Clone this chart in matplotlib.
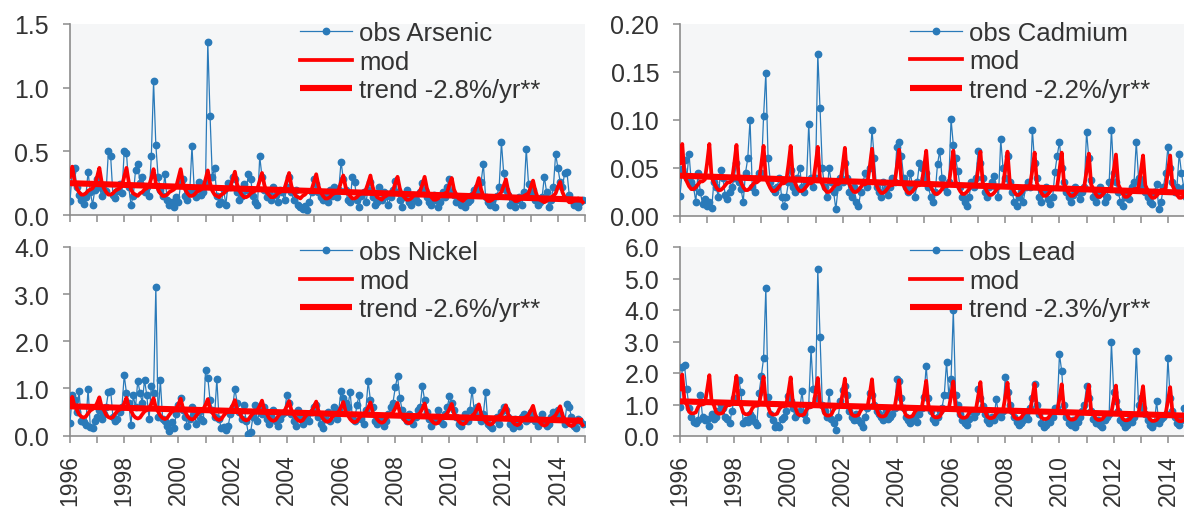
import matplotlib
matplotlib.use("Agg")
import matplotlib.pyplot as plt
import numpy as np

plt.rcParams["font.family"] = ["Liberation Sans", "DejaVu Sans"]

# monthly values Jan 1996 - Dec 2014, one row per year
arsenic_obs = [
    [0.11, 0.34, 0.37, 0.22, 0.16, 0.12, 0.09, 0.14, 0.34, 0.18, 0.08, 0.20],
    [0.28, 0.22, 0.15, 0.20, 0.19, 0.50, 0.46, 0.16, 0.13, 0.19, 0.24, 0.17],
    [0.50, 0.49, 0.22, 0.08, 0.15, 0.35, 0.40, 0.25, 0.30, 0.18, 0.22, 0.15],
    [0.46, 1.05, 0.55, 0.30, 0.20, 0.15, 0.32, 0.12, 0.08, 0.10, 0.06, 0.14],
    [0.10, 0.25, 0.28, 0.15, 0.12, 0.18, 0.54, 0.20, 0.14, 0.26, 0.16, 0.18],
    [0.25, 1.36, 0.78, 0.30, 0.37, 0.15, 0.09, 0.10, 0.20, 0.08, 0.25, 0.22],
    [0.30, 0.28, 0.18, 0.12, 0.15, 0.24, 0.20, 0.32, 0.28, 0.15, 0.10, 0.08],
    [0.46, 0.30, 0.20, 0.14, 0.18, 0.12, 0.22, 0.16, 0.10, 0.20, 0.18, 0.12],
    [0.22, 0.30, 0.18, 0.12, 0.20, 0.08, 0.06, 0.05, 0.07, 0.04, 0.10, 0.18],
    [0.28, 0.24, 0.18, 0.14, 0.12, 0.16, 0.10, 0.20, 0.15, 0.22, 0.14, 0.20],
    [0.42, 0.28, 0.20, 0.12, 0.10, 0.30, 0.26, 0.12, 0.06, 0.15, 0.18, 0.10],
    [0.20, 0.26, 0.14, 0.08, 0.10, 0.22, 0.12, 0.18, 0.15, 0.08, 0.14, 0.20],
    [0.27, 0.18, 0.12, 0.06, 0.14, 0.20, 0.10, 0.08, 0.16, 0.12, 0.10, 0.18],
    [0.25, 0.20, 0.14, 0.10, 0.08, 0.16, 0.12, 0.06, 0.10, 0.18, 0.14, 0.22],
    [0.28, 0.18, 0.16, 0.10, 0.12, 0.08, 0.14, 0.06, 0.10, 0.12, 0.16, 0.20],
    [0.22, 0.18, 0.26, 0.40, 0.14, 0.10, 0.08, 0.12, 0.06, 0.15, 0.22, 0.57],
    [0.33, 0.20, 0.16, 0.08, 0.10, 0.06, 0.12, 0.14, 0.08, 0.18, 0.52, 0.24],
    [0.16, 0.20, 0.12, 0.08, 0.10, 0.14, 0.30, 0.18, 0.06, 0.12, 0.22, 0.48],
    [0.37, 0.26, 0.22, 0.33, 0.34, 0.16, 0.12, 0.08, 0.10, 0.06, 0.10, 0.12],
]
arsenic_mod = [
    [0.30, 0.38, 0.27, 0.21, 0.18, 0.16, 0.16, 0.17, 0.19, 0.20, 0.21, 0.24],
    [0.30, 0.37, 0.26, 0.21, 0.18, 0.16, 0.16, 0.17, 0.19, 0.20, 0.21, 0.23],
    [0.30, 0.37, 0.26, 0.20, 0.17, 0.16, 0.15, 0.17, 0.18, 0.20, 0.21, 0.23],
    [0.29, 0.36, 0.25, 0.20, 0.17, 0.15, 0.15, 0.16, 0.18, 0.19, 0.20, 0.22],
    [0.29, 0.36, 0.25, 0.20, 0.17, 0.15, 0.15, 0.16, 0.18, 0.19, 0.20, 0.22],
    [0.28, 0.35, 0.25, 0.19, 0.16, 0.15, 0.14, 0.16, 0.17, 0.19, 0.20, 0.22],
    [0.28, 0.34, 0.24, 0.19, 0.16, 0.14, 0.14, 0.15, 0.17, 0.18, 0.19, 0.21],
    [0.27, 0.33, 0.24, 0.18, 0.16, 0.14, 0.14, 0.15, 0.17, 0.18, 0.19, 0.21],
    [0.27, 0.33, 0.23, 0.18, 0.15, 0.14, 0.13, 0.15, 0.16, 0.18, 0.19, 0.20],
    [0.26, 0.32, 0.23, 0.18, 0.15, 0.13, 0.13, 0.14, 0.16, 0.17, 0.18, 0.20],
    [0.26, 0.31, 0.22, 0.17, 0.15, 0.13, 0.13, 0.14, 0.16, 0.17, 0.18, 0.20],
    [0.25, 0.31, 0.22, 0.17, 0.14, 0.13, 0.12, 0.14, 0.15, 0.17, 0.18, 0.19],
    [0.25, 0.30, 0.21, 0.16, 0.14, 0.12, 0.12, 0.13, 0.15, 0.16, 0.17, 0.19],
    [0.24, 0.30, 0.21, 0.16, 0.14, 0.12, 0.12, 0.13, 0.15, 0.16, 0.17, 0.18],
    [0.24, 0.29, 0.20, 0.16, 0.13, 0.12, 0.11, 0.13, 0.14, 0.15, 0.16, 0.18],
    [0.23, 0.29, 0.20, 0.15, 0.13, 0.11, 0.11, 0.12, 0.14, 0.15, 0.16, 0.18],
    [0.23, 0.28, 0.19, 0.15, 0.13, 0.11, 0.11, 0.12, 0.13, 0.15, 0.16, 0.17],
    [0.22, 0.27, 0.19, 0.14, 0.12, 0.11, 0.10, 0.11, 0.13, 0.14, 0.15, 0.17],
    [0.22, 0.26, 0.18, 0.14, 0.12, 0.10, 0.10, 0.11, 0.12, 0.13, 0.12, 0.10],
]
arsenic_trend = [0.25, 0.12]

cadmium_obs = [
    [0.021, 0.049, 0.058, 0.040, 0.065, 0.035, 0.030, 0.015, 0.045, 0.025, 0.012, 0.018],
    [0.010, 0.015, 0.008, 0.035, 0.030, 0.020, 0.048, 0.040, 0.022, 0.018, 0.025, 0.030],
    [0.040, 0.055, 0.035, 0.028, 0.015, 0.045, 0.060, 0.100, 0.030, 0.025, 0.040, 0.045],
    [0.045, 0.104, 0.149, 0.060, 0.035, 0.028, 0.025, 0.030, 0.040, 0.020, 0.010, 0.020],
    [0.035, 0.048, 0.030, 0.025, 0.040, 0.050, 0.030, 0.025, 0.035, 0.096, 0.040, 0.030],
    [0.040, 0.169, 0.112, 0.050, 0.030, 0.020, 0.050, 0.035, 0.025, 0.007, 0.030, 0.040],
    [0.035, 0.055, 0.040, 0.025, 0.020, 0.030, 0.015, 0.010, 0.025, 0.035, 0.045, 0.030],
    [0.050, 0.090, 0.060, 0.030, 0.025, 0.020, 0.035, 0.028, 0.022, 0.030, 0.040, 0.035],
    [0.072, 0.077, 0.063, 0.040, 0.030, 0.025, 0.045, 0.030, 0.020, 0.035, 0.055, 0.050],
    [0.040, 0.045, 0.030, 0.020, 0.015, 0.025, 0.054, 0.068, 0.040, 0.030, 0.025, 0.035],
    [0.101, 0.074, 0.060, 0.047, 0.030, 0.020, 0.015, 0.010, 0.020, 0.035, 0.030, 0.040],
    [0.068, 0.055, 0.040, 0.025, 0.020, 0.030, 0.035, 0.042, 0.030, 0.020, 0.080, 0.050],
    [0.040, 0.063, 0.035, 0.025, 0.015, 0.010, 0.020, 0.025, 0.015, 0.030, 0.035, 0.030],
    [0.090, 0.055, 0.040, 0.020, 0.015, 0.025, 0.030, 0.018, 0.012, 0.020, 0.046, 0.063],
    [0.077, 0.050, 0.035, 0.025, 0.020, 0.015, 0.022, 0.030, 0.025, 0.018, 0.025, 0.030],
    [0.088, 0.060, 0.038, 0.020, 0.015, 0.022, 0.030, 0.025, 0.015, 0.020, 0.035, 0.090],
    [0.045, 0.035, 0.025, 0.015, 0.010, 0.020, 0.025, 0.018, 0.030, 0.035, 0.077, 0.040],
    [0.035, 0.030, 0.025, 0.020, 0.015, 0.012, 0.025, 0.033, 0.007, 0.015, 0.030, 0.045],
    [0.072, 0.050, 0.035, 0.025, 0.030, 0.065, 0.045, 0.030, 0.020, 0.015, 0.025, 0.030],
]
cadmium_mod = [
    [0.055, 0.075, 0.041, 0.036, 0.031, 0.028, 0.028, 0.030, 0.033, 0.036, 0.036, 0.038],
    [0.055, 0.075, 0.040, 0.035, 0.030, 0.027, 0.027, 0.029, 0.032, 0.035, 0.035, 0.037],
    [0.054, 0.074, 0.040, 0.035, 0.030, 0.027, 0.027, 0.029, 0.032, 0.035, 0.035, 0.037],
    [0.054, 0.073, 0.039, 0.034, 0.029, 0.026, 0.026, 0.028, 0.031, 0.034, 0.034, 0.036],
    [0.053, 0.073, 0.039, 0.034, 0.029, 0.026, 0.026, 0.028, 0.031, 0.034, 0.034, 0.036],
    [0.053, 0.072, 0.038, 0.033, 0.028, 0.025, 0.025, 0.027, 0.030, 0.033, 0.033, 0.035],
    [0.052, 0.071, 0.038, 0.033, 0.028, 0.025, 0.025, 0.027, 0.030, 0.033, 0.033, 0.035],
    [0.051, 0.070, 0.037, 0.032, 0.027, 0.024, 0.024, 0.026, 0.029, 0.032, 0.032, 0.034],
    [0.051, 0.069, 0.037, 0.032, 0.027, 0.024, 0.024, 0.026, 0.029, 0.032, 0.032, 0.034],
    [0.050, 0.068, 0.036, 0.031, 0.026, 0.023, 0.023, 0.025, 0.028, 0.031, 0.031, 0.033],
    [0.050, 0.068, 0.036, 0.031, 0.026, 0.023, 0.023, 0.025, 0.028, 0.031, 0.031, 0.033],
    [0.049, 0.067, 0.035, 0.030, 0.025, 0.022, 0.022, 0.024, 0.027, 0.030, 0.030, 0.032],
    [0.049, 0.067, 0.035, 0.030, 0.025, 0.022, 0.022, 0.024, 0.027, 0.030, 0.030, 0.032],
    [0.048, 0.066, 0.034, 0.029, 0.024, 0.021, 0.021, 0.023, 0.026, 0.029, 0.029, 0.031],
    [0.048, 0.066, 0.034, 0.029, 0.024, 0.021, 0.021, 0.023, 0.026, 0.029, 0.029, 0.031],
    [0.047, 0.065, 0.033, 0.028, 0.023, 0.020, 0.020, 0.022, 0.025, 0.028, 0.028, 0.030],
    [0.047, 0.064, 0.033, 0.028, 0.023, 0.020, 0.020, 0.022, 0.025, 0.028, 0.028, 0.030],
    [0.046, 0.063, 0.032, 0.027, 0.022, 0.019, 0.019, 0.021, 0.024, 0.027, 0.027, 0.029],
    [0.046, 0.063, 0.032, 0.027, 0.022, 0.019, 0.019, 0.021, 0.024, 0.027, 0.027, 0.029],
]
cadmium_trend = [0.042, 0.024]

nickel_obs = [
    [0.27, 0.85, 0.75, 0.50, 0.95, 0.30, 0.28, 0.22, 0.99, 0.18, 0.15, 0.30],
    [0.40, 0.55, 0.35, 0.45, 0.60, 0.93, 0.95, 0.40, 0.30, 0.35, 0.50, 0.60],
    [1.28, 0.90, 0.70, 0.22, 0.85, 0.60, 1.16, 0.90, 0.70, 1.18, 0.85, 0.35],
    [1.05, 0.90, 3.15, 0.40, 1.17, 0.35, 0.30, 0.20, 0.10, 0.28, 0.15, 0.45],
    [0.65, 0.80, 0.55, 0.40, 0.20, 0.35, 0.60, 0.45, 0.25, 0.50, 0.35, 0.30],
    [1.39, 1.23, 0.75, 0.55, 0.40, 1.20, 0.35, 0.15, 0.18, 0.12, 0.20, 0.45],
    [0.60, 0.99, 0.70, 0.50, 0.35, 0.65, 0.30, 0.03, 0.08, 0.40, 0.65, 0.30],
    [0.55, 0.45, 0.60, 0.35, 0.25, 0.40, 0.55, 0.30, 0.20, 0.35, 0.45, 0.50],
    [0.86, 0.70, 0.45, 0.30, 0.20, 0.55, 0.40, 0.25, 0.35, 0.45, 0.30, 0.50],
    [0.60, 0.65, 0.40, 0.25, 0.15, 0.35, 0.50, 0.30, 0.45, 0.60, 0.35, 0.55],
    [0.95, 0.80, 0.70, 0.60, 0.93, 0.40, 0.30, 0.65, 0.85, 0.35, 0.25, 0.55],
    [1.15, 0.75, 0.60, 0.30, 0.25, 0.40, 0.35, 0.20, 0.30, 0.45, 0.60, 0.70],
    [1.02, 1.26, 0.80, 0.55, 0.40, 0.30, 0.45, 0.35, 0.25, 0.40, 0.55, 0.60],
    [1.05, 0.75, 0.50, 0.35, 0.20, 0.30, 0.40, 0.55, 0.30, 0.25, 0.45, 0.60],
    [0.83, 0.70, 0.55, 0.40, 0.25, 0.20, 0.35, 0.45, 0.30, 0.55, 0.97, 0.50],
    [0.60, 0.40, 0.30, 0.45, 0.93, 0.25, 0.20, 0.15, 0.35, 0.40, 0.25, 0.50],
    [0.60, 0.55, 0.40, 0.25, 0.15, 0.35, 0.30, 0.20, 0.40, 0.45, 0.30, 0.35],
    [0.50, 0.40, 0.30, 0.20, 0.35, 0.45, 0.30, 0.20, 0.25, 0.40, 0.50, 0.45],
    [0.55, 0.45, 0.35, 0.25, 0.67, 0.60, 0.40, 0.20, 0.15, 0.35, 0.30, 0.25],
]
nickel_mod = [
    [0.70, 0.82, 0.62, 0.55, 0.45, 0.40, 0.38, 0.40, 0.47, 0.53, 0.56, 0.60],
    [0.69, 0.81, 0.61, 0.54, 0.44, 0.39, 0.37, 0.39, 0.46, 0.52, 0.55, 0.59],
    [0.68, 0.80, 0.60, 0.53, 0.43, 0.38, 0.36, 0.38, 0.45, 0.51, 0.54, 0.58],
    [0.67, 0.79, 0.59, 0.51, 0.42, 0.37, 0.35, 0.37, 0.44, 0.50, 0.53, 0.57],
    [0.66, 0.78, 0.58, 0.50, 0.41, 0.36, 0.34, 0.36, 0.43, 0.49, 0.52, 0.56],
    [0.65, 0.77, 0.57, 0.49, 0.40, 0.35, 0.33, 0.35, 0.42, 0.48, 0.51, 0.55],
    [0.64, 0.75, 0.56, 0.48, 0.39, 0.34, 0.32, 0.34, 0.41, 0.47, 0.50, 0.54],
    [0.63, 0.74, 0.55, 0.47, 0.38, 0.33, 0.31, 0.33, 0.40, 0.46, 0.49, 0.53],
    [0.62, 0.73, 0.54, 0.45, 0.37, 0.32, 0.30, 0.32, 0.39, 0.45, 0.48, 0.52],
    [0.61, 0.72, 0.52, 0.44, 0.36, 0.31, 0.29, 0.31, 0.38, 0.44, 0.47, 0.51],
    [0.60, 0.71, 0.51, 0.43, 0.35, 0.30, 0.28, 0.30, 0.37, 0.43, 0.46, 0.50],
    [0.59, 0.70, 0.50, 0.42, 0.34, 0.29, 0.27, 0.29, 0.36, 0.42, 0.45, 0.49],
    [0.58, 0.69, 0.49, 0.40, 0.33, 0.28, 0.26, 0.28, 0.35, 0.41, 0.44, 0.48],
    [0.57, 0.68, 0.48, 0.39, 0.32, 0.27, 0.25, 0.27, 0.34, 0.40, 0.43, 0.47],
    [0.56, 0.67, 0.47, 0.38, 0.31, 0.26, 0.24, 0.26, 0.33, 0.39, 0.42, 0.46],
    [0.55, 0.66, 0.46, 0.37, 0.30, 0.25, 0.23, 0.25, 0.32, 0.38, 0.41, 0.45],
    [0.54, 0.64, 0.45, 0.36, 0.29, 0.24, 0.22, 0.24, 0.31, 0.37, 0.40, 0.44],
    [0.53, 0.63, 0.44, 0.35, 0.28, 0.23, 0.21, 0.23, 0.30, 0.36, 0.39, 0.43],
    [0.52, 0.62, 0.43, 0.34, 0.27, 0.22, 0.20, 0.22, 0.29, 0.35, 0.30, 0.22],
]
nickel_trend = [0.62, 0.31]

lead_obs = [
    [0.92, 2.19, 2.24, 1.50, 0.90, 0.60, 0.44, 0.40, 0.50, 1.30, 0.60, 0.50],
    [0.55, 0.32, 0.70, 0.55, 0.60, 0.80, 1.00, 0.90, 0.60, 0.55, 0.40, 0.80],
    [1.20, 1.10, 1.78, 1.40, 0.40, 0.50, 0.45, 0.70, 0.60, 0.45, 0.35, 1.36],
    [1.90, 2.47, 4.70, 1.25, 0.70, 0.50, 0.30, 0.35, 0.30, 0.55, 0.60, 0.80],
    [1.27, 1.10, 0.90, 0.60, 0.70, 0.80, 1.43, 0.70, 0.50, 1.00, 2.76, 1.50],
    [1.20, 5.30, 3.14, 1.00, 0.80, 0.60, 1.40, 0.55, 0.40, 0.20, 0.60, 1.10],
    [1.46, 1.60, 1.30, 0.80, 0.60, 0.50, 0.70, 0.50, 0.40, 0.30, 0.60, 0.90],
    [1.35, 1.30, 1.00, 0.80, 0.70, 0.60, 0.50, 0.80, 0.55, 0.60, 0.70, 0.90],
    [1.80, 1.75, 1.20, 0.90, 0.60, 0.50, 0.40, 0.55, 0.60, 0.45, 0.70, 0.90],
    [1.24, 2.23, 1.20, 0.80, 0.55, 0.45, 0.60, 0.80, 0.90, 1.30, 2.35, 1.30],
    [1.80, 4.00, 1.30, 1.00, 0.70, 0.50, 0.40, 0.35, 0.55, 0.80, 0.60, 0.75],
    [1.50, 1.20, 0.95, 0.70, 0.50, 0.40, 0.60, 0.50, 1.17, 0.70, 0.60, 0.80],
    [1.86, 1.40, 1.00, 0.80, 0.60, 0.45, 0.35, 0.40, 0.50, 0.70, 0.55, 0.90],
    [1.20, 1.65, 1.00, 0.70, 0.40, 0.30, 0.35, 0.50, 0.45, 0.60, 0.90, 0.90],
    [2.60, 2.05, 1.00, 0.60, 0.40, 0.35, 0.50, 0.30, 0.45, 0.60, 0.80, 1.00],
    [1.60, 1.20, 0.80, 0.55, 0.40, 0.50, 0.35, 0.30, 0.50, 0.60, 0.70, 2.97],
    [1.40, 1.10, 0.80, 0.50, 0.40, 0.30, 0.35, 0.50, 0.45, 0.60, 2.70, 1.00],
    [1.20, 0.90, 0.70, 0.50, 0.35, 0.30, 0.40, 1.10, 0.40, 0.55, 0.60, 0.70],
    [2.48, 1.20, 0.80, 0.60, 0.40, 0.35, 0.50, 0.90, 0.60, 0.50, 0.70, 0.80],
]
lead_mod = [
    [1.48, 1.95, 1.10, 1.00, 0.77, 0.72, 0.72, 0.75, 0.92, 1.00, 1.00, 1.03],
    [1.46, 1.93, 1.08, 0.98, 0.76, 0.71, 0.71, 0.74, 0.90, 0.98, 0.98, 1.01],
    [1.44, 1.91, 1.06, 0.96, 0.74, 0.69, 0.69, 0.72, 0.88, 0.96, 0.96, 0.99],
    [1.41, 1.88, 1.04, 0.94, 0.73, 0.68, 0.68, 0.71, 0.86, 0.94, 0.94, 0.97],
    [1.39, 1.86, 1.02, 0.92, 0.71, 0.66, 0.66, 0.69, 0.84, 0.92, 0.92, 0.95],
    [1.37, 1.84, 1.01, 0.91, 0.70, 0.65, 0.65, 0.68, 0.83, 0.91, 0.91, 0.94],
    [1.35, 1.82, 0.99, 0.89, 0.69, 0.64, 0.64, 0.67, 0.81, 0.89, 0.89, 0.92],
    [1.33, 1.80, 0.97, 0.87, 0.67, 0.62, 0.62, 0.65, 0.79, 0.87, 0.87, 0.90],
    [1.31, 1.77, 0.95, 0.85, 0.66, 0.61, 0.61, 0.64, 0.77, 0.85, 0.85, 0.88],
    [1.29, 1.75, 0.93, 0.83, 0.64, 0.59, 0.59, 0.62, 0.75, 0.83, 0.83, 0.86],
    [1.27, 1.73, 0.91, 0.81, 0.63, 0.58, 0.58, 0.61, 0.73, 0.81, 0.81, 0.84],
    [1.25, 1.71, 0.89, 0.79, 0.62, 0.57, 0.57, 0.60, 0.71, 0.79, 0.79, 0.82],
    [1.23, 1.69, 0.87, 0.77, 0.60, 0.55, 0.55, 0.58, 0.69, 0.77, 0.77, 0.80],
    [1.21, 1.66, 0.86, 0.76, 0.59, 0.54, 0.54, 0.57, 0.68, 0.76, 0.76, 0.79],
    [1.19, 1.64, 0.84, 0.74, 0.57, 0.52, 0.52, 0.55, 0.66, 0.74, 0.74, 0.77],
    [1.17, 1.62, 0.82, 0.72, 0.56, 0.51, 0.51, 0.54, 0.64, 0.72, 0.72, 0.75],
    [1.15, 1.60, 0.80, 0.70, 0.55, 0.50, 0.50, 0.53, 0.62, 0.70, 0.70, 0.73],
    [1.13, 1.58, 0.78, 0.68, 0.53, 0.48, 0.48, 0.51, 0.60, 0.68, 0.68, 0.71],
    [1.11, 1.55, 0.76, 0.66, 0.52, 0.47, 0.47, 0.50, 0.58, 0.66, 0.66, 0.69],
]
lead_trend = [1.10, 0.64]

panels = [
    ("Arsenic", arsenic_obs, arsenic_mod, arsenic_trend, "-2.8%/yr**",
     [0.0, 0.5, 1.0, 1.5], "{:.1f}"),
    ("Cadmium", cadmium_obs, cadmium_mod, cadmium_trend, "-2.2%/yr**",
     [0.0, 0.05, 0.10, 0.15, 0.20], "{:.2f}"),
    ("Nickel", nickel_obs, nickel_mod, nickel_trend, "-2.6%/yr**",
     [0.0, 1.0, 2.0, 3.0, 4.0], "{:.1f}"),
    ("Lead", lead_obs, lead_mod, lead_trend, "-2.3%/yr**",
     [0.0, 1.0, 2.0, 3.0, 4.0, 5.0, 6.0], "{:.1f}"),
]

W, H = 1184, 510
# axes boxes in pixels: left, top, width, height
boxes = [(70, 25, 515, 191), (680, 25, 515, 192),
         (70, 248, 515, 188.5), (680, 248, 515, 189)]
legend_anchor_y = [1.015, 1.015, 1.035, 1.035]

BLUE = "#2a7ab9"
RED = "#ff0000"
TXT = "#333333"
GREY = "#8c8c8c"

fig = plt.figure(figsize=(W / 100, H / 100), dpi=100)

months = 1996 + np.arange(19 * 12) / 12.0

for k, (name, obs, mod, trend, trend_lbl, yticks, yfmt) in enumerate(panels):
    l, t, w, h = boxes[k]
    ax = fig.add_axes([l / W, 1 - (t + h) / H, w / W, h / H])
    ax.set_facecolor("#f5f6f7")

    obs_v = np.array(obs).ravel()
    mod_v = np.array(mod).ravel()
    ax.plot(months, obs_v, color=BLUE, lw=0.9, marker="o", ms=4.6,
            mec=BLUE, mfc=BLUE, label=f"obs {name}", zorder=3)
    ax.plot(months, mod_v, color=RED, lw=2.7, label="mod", zorder=4)
    ax.plot([months[0], months[-1]], trend, color=RED, lw=4.4,
            solid_capstyle="butt", label=f"trend {trend_lbl}", zorder=5)

    ax.set_xlim(1996, 2015)
    ax.set_ylim(yticks[0], yticks[-1])
    ax.set_yticks(yticks)
    ax.set_yticklabels([yfmt.format(v) for v in yticks])
    ax.set_xticks(np.arange(1996, 2016))
    if k >= 2:
        ax.set_xticklabels([str(y) if (y - 1996) % 2 == 0 else ""
                            for y in range(1996, 2016)], rotation=90)
    else:
        ax.set_xticklabels([])

    for side in ("top", "right"):
        ax.spines[side].set_visible(False)
    for side in ("left", "bottom"):
        ax.spines[side].set_color(GREY)
        ax.spines[side].set_linewidth(1.2)
    ax.tick_params(axis="y", direction="out", length=5, width=1.1,
                   color=GREY, labelsize=18, labelcolor=TXT, pad=10)
    ax.tick_params(axis="x", direction="out", length=5, width=1.1,
                   color=GREY, labelsize=16.5, labelcolor=TXT, pad=8)

    ax.legend(loc="upper left", bbox_to_anchor=(0.447, legend_anchor_y[k]),
              frameon=False, borderpad=0, borderaxespad=0,
              handlelength=2.0, handletextpad=0.3, labelspacing=0.17,
              fontsize=18.5, labelcolor=TXT)

fig.savefig("out.png", dpi=100)
